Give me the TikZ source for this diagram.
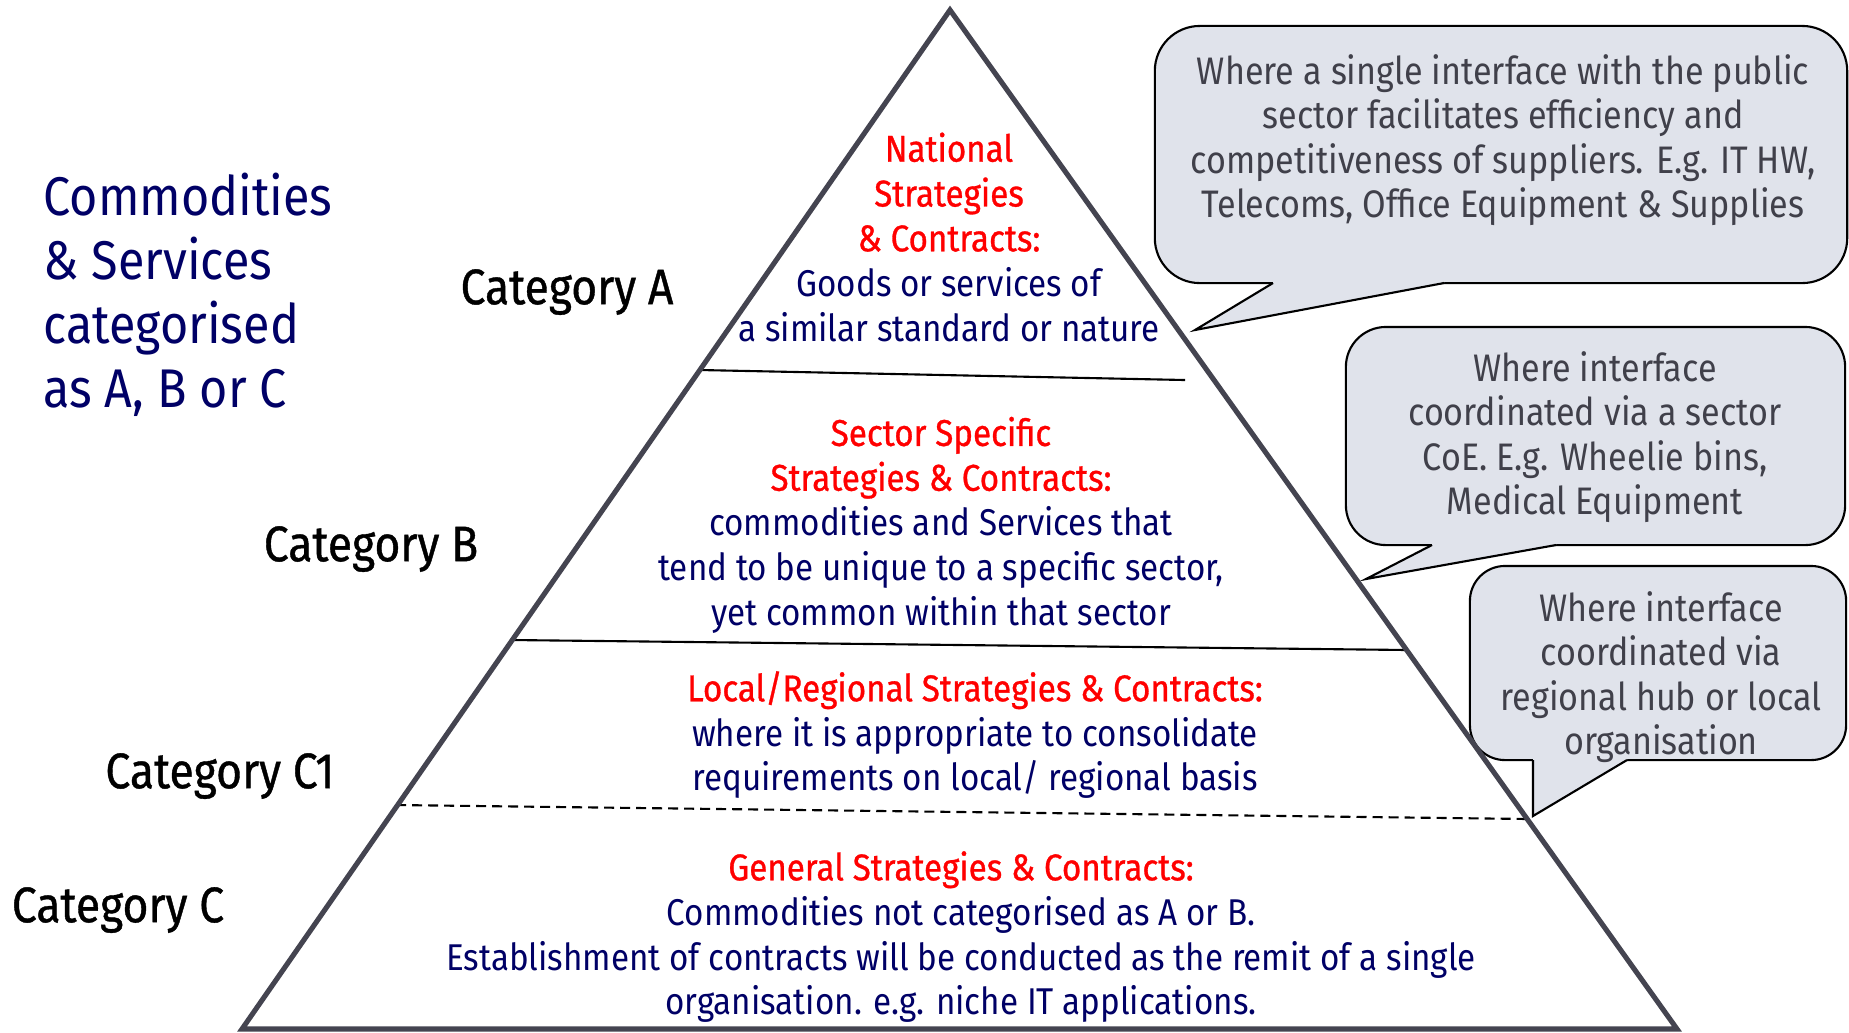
\documentclass[tikz,border=0pt]{standalone}
\usepackage{fontspec}
\setmainfont{Fira Sans}[FakeStretch=0.89]
\newfontfamily\hdfont{Fira Sans}[FakeStretch=0.89,FakeBold=0.8]
\usetikzlibrary{calc}
\definecolor{navy}{RGB}{0,0,102}
\definecolor{pyramidgray}{RGB}{68,68,80}
\definecolor{calloutfill}{RGB}{224,227,235}
\definecolor{callouttext}{RGB}{64,64,74}
\newcommand{\hd}[1]{{\hdfont\color{red}#1}}
\tikzstyle{title} = [anchor=west, align=left, text=navy, font=\fontsize{15.5}{18.2}\selectfont]
\tikzstyle{category} = [text=black, font=\hdfont\fontsize{14.2}{16}\selectfont]
\tikzstyle{tier} = [align=center, text=navy, font=\fontsize{10.6}{12.75}\selectfont]
\tikzstyle{callout} = [draw=black, fill=calloutfill, line width=0.6pt, rounded corners=4mm]
\tikzstyle{callout_text} = [align=center, text=callouttext, font=\fontsize{10.9}{12.66}\selectfont]
\tikzstyle{pointer} = [draw=black, line width=0.6pt, line join=miter]
\tikzstyle{divider} = [black, line width=0.6pt]
\tikzstyle{edge} = [draw=pyramidgray, line width=1.45pt, line join=miter]
\begin{document}
\begin{tikzpicture}[x=0.01cm, y=-0.01cm]
	\useasboundingbox (0,0) rectangle (1849,1032);
	\coordinate (apex) at (950,10);
	\coordinate (bl) at (242,1029);
	\coordinate (br) at (1677,1029);

	\node (box1) [callout, minimum width=6.92cm, minimum height=2.57cm, rounded corners=4.5mm] at (1501,154.5) {};
	\node (box2) [callout, minimum width=4.99cm, minimum height=2.18cm] at (1595.5,436) {};
	\node (box3) [callout, minimum width=3.76cm, minimum height=1.94cm, rounded corners=3.5mm] at (1658,663) {};

	\coordinate (p1a) at (1273,283);
	\coordinate (p1tip) at (1195,330);
	\coordinate (p1b) at (1444,283);
	\coordinate (p2a) at (1432,545);
	\coordinate (p2tip) at (1366,579);
	\coordinate (p2b) at (1556,545);
	\coordinate (p3a) at (1533,760);
	\coordinate (p3tip) at (1533,816);
	\coordinate (p3b) at (1627,760);
	\foreach \p in {1,2,3} {
		\fill [calloutfill] ($(p\p a)+(0,-3)$) -- (p\p a) -- (p\p tip) -- (p\p b) -- ($(p\p b)+(0,-3)$) -- cycle;
		\draw [pointer] (p\p a) -- (p\p tip) -- (p\p b);
	}

	\node (txt1) [callout_text] at (1503,140) {Where a single interface with the public\\sector facilitates efficiency and\\competitiveness of suppliers. E.g. IT HW,\\Telecoms, Office Equipment \& Supplies};
	\node (txt2) [callout_text] at (1595,437) {Where interface\\coordinated via a sector\\CoE. E.g. Wheelie bins,\\Medical Equipment};
	\node (txt3) [callout_text] at (1661,677) {Where interface\\coordinated via\\regional hub or local\\organisation};

	\draw [divider] (700,370) -- (1185,380);
	\draw [divider] (512,640) -- (1408,650);
	\draw [divider, dash pattern=on 1mm off 0.6mm] (396,805) -- (1529,819);
	\draw [edge] (apex) -- (br) -- (bl) -- cycle;

	\node (intro) [title] at (31,295) {Commodities\\\& Services\\categorised\\as A, B or C};

	\node (catA) [category] at (567,292) {Category A};
	\node (catB) [category] at (371,549) {Category B};
	\node (catC1) [category] at (220,776) {Category C1};
	\node (catC) [category] at (118,910) {Category C};

	\node (tierA) [tier] at (949,237) {\hd{National}\\\hd{Strategies}\\\hd{\& Contracts:}\\Goods or services of\\a similar standard or nature};
	\node (tierB) [tier] at (941,525) {\hd{Sector Specific}\\\hd{Strategies \& Contracts:}\\commodities and Services that\\tend to be unique to a specific sector,\\yet common within that sector};
	\node (tierC1) [tier] at (975,735) {\hd{Local/Regional Strategies \& Contracts:}\\where it is appropriate to consolidate\\requirements on local/ regional basis};
	\node (tierC) [tier] at (961,937) {\hd{General Strategies \& Contracts:}\\Commodities not categorised as A or B.\\Establishment of contracts will be conducted as the remit of a single\\organisation. e.g. niche IT applications.};
\end{tikzpicture}
\end{document}
